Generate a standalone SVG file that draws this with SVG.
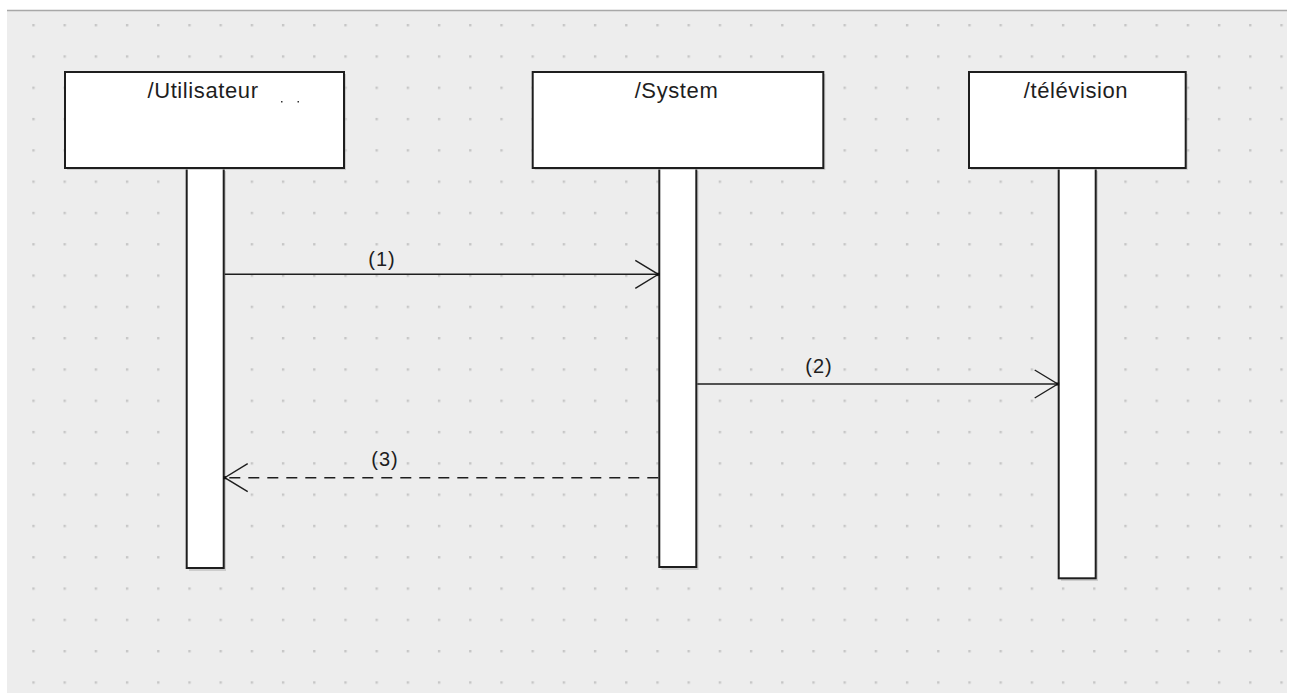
<svg xmlns="http://www.w3.org/2000/svg" width="1290" height="693" viewBox="0 0 1290 693">
  <style>
    .box { fill: #ffffff; stroke: #1e1e1e; stroke-width: 2; }
    .shadow { fill: #b8b8b8; opacity: 0.6; }
    .name { font-family: "Liberation Sans", Arial, sans-serif; font-size: 22px; letter-spacing: 0.6px; fill: #1e1e1e; text-anchor: middle; }
    .lbl { font-family: "Liberation Sans", Arial, sans-serif; font-size: 20px; letter-spacing: 1px; fill: #1e1e1e; text-anchor: middle; }
    .msg { stroke: #1e1e1e; stroke-width: 1.5; fill: none; }
    .dash { stroke-dasharray: 11 8; }
  </style>
  <defs>
    <pattern id="grid" patternUnits="userSpaceOnUse" x="32.3" y="24" width="31.2" height="31.3">
      <rect x="0" y="0" width="2.4" height="2.4" fill="#c6c6c6"/>
    </pattern>
    <marker id="open" viewBox="-26 -16 28 32" markerUnits="userSpaceOnUse" markerWidth="28" markerHeight="32" refX="0" refY="0" orient="auto">
      <path d="M-23,-14 L0,0 L-23,14" fill="none" stroke="#1e1e1e" stroke-width="1.4"/>
      <rect x="-1.5" y="-1.5" width="3" height="3" fill="#111"/>
    </marker>
  </defs>

  <rect x="0" y="0" width="1290" height="693" fill="#ffffff"/>
  <rect x="7" y="11" width="1280" height="682" fill="#ededed"/>
  <line x1="7" y1="10.5" x2="1287" y2="10.5" stroke="#a8a8a8" stroke-width="1.5"/>
  <rect x="7" y="11" width="1280" height="682" fill="url(#grid)"/>

  <g id="utilisateur">
    <rect class="shadow" x="189" y="171" width="37" height="400"/>
    <rect class="box" x="186.7" y="168" width="37" height="400"/>
    <rect class="shadow" x="67" y="74" width="279" height="96"/>
    <rect class="box" x="65" y="72" width="279" height="96"/>
    <text class="name" x="203" y="98">/Utilisateur</text>
    <rect x="281" y="101" width="1.5" height="1.5" fill="#333"/>
    <rect x="297.5" y="101" width="1.5" height="1.5" fill="#333"/>
  </g>

  <g id="system">
    <rect class="shadow" x="661.5" y="171" width="37" height="399"/>
    <rect class="box" x="659.3" y="168" width="37" height="399"/>
    <rect class="shadow" x="534.7" y="74" width="290.6" height="96"/>
    <rect class="box" x="532.7" y="72" width="290.6" height="96"/>
    <text class="name" x="676.5" y="98">/System</text>
  </g>

  <g id="television">
    <rect class="shadow" x="1061" y="171" width="37" height="410"/>
    <rect class="box" x="1058.7" y="168" width="37" height="410.3"/>
    <rect class="shadow" x="971" y="74" width="216.7" height="96"/>
    <rect class="box" x="969" y="72" width="216.7" height="96"/>
    <text class="name" x="1076" y="98">/télévision</text>
  </g>

  <g id="connectors">
    <line class="msg" x1="224.7" y1="274.3" x2="658.3" y2="274.3" marker-end="url(#open)"/>
    <text class="lbl" x="382" y="266">(1)</text>
    <line class="msg" x1="697.3" y1="384" x2="1057.7" y2="384" marker-end="url(#open)"/>
    <text class="lbl" x="819" y="373">(2)</text>
    <line class="msg dash" x1="658.3" y1="477.7" x2="224.7" y2="477.7" marker-end="url(#open)"/>
    <text class="lbl" x="385" y="466">(3)</text>
  </g>
</svg>
